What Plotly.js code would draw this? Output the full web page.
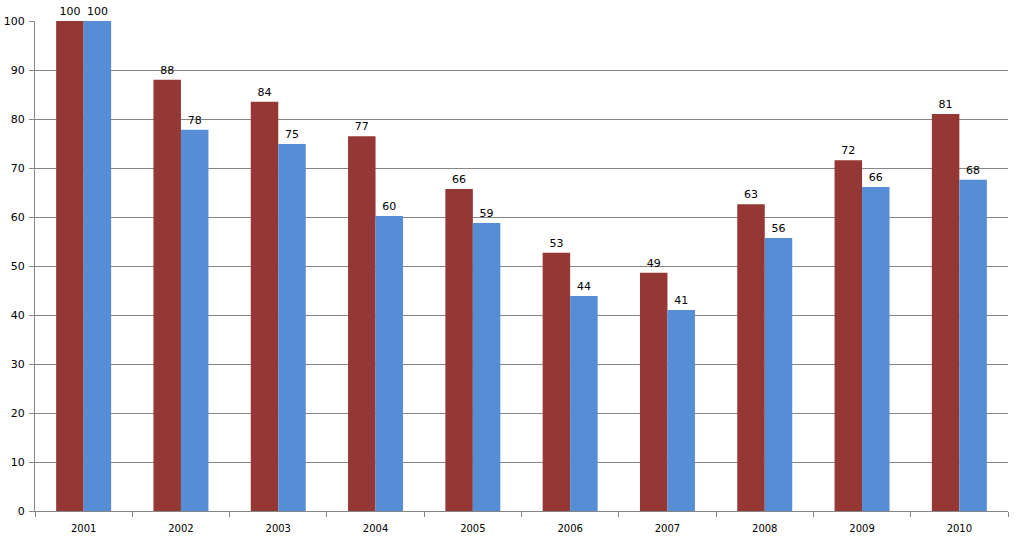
<!DOCTYPE html>
<html>
<head>
<meta charset="utf-8">
<script src="https://cdn.plot.ly/plotly-3.0.1.min.js"></script>
<style>html,body{margin:0;padding:0;background:#fff;}#chart{width:1022px;height:548px;}</style>
</head>
<body>
<div id="chart"></div>
<script>
var years = ['2001','2002','2003','2004','2005','2006','2007','2008','2009','2010'];
var seriesRed = [100, 88.0, 83.5, 76.5, 65.7, 52.7, 48.6, 62.6, 71.6, 81.0];
var seriesBlue = [100, 77.8, 74.9, 60.2, 58.8, 43.9, 41.0, 55.7, 66.1, 67.6];
var yTicks = [0,10,20,30,40,50,60,70,80,90,100];

var font = {family: 'DejaVu Sans, Verdana, sans-serif', size: 11, color: '#000'};
function trace(vals, color){
  return {
    type: 'bar', x: years, y: vals,
    marker: {color: color, line: {width: 0}},
    text: vals.map(function(v){return String(Math.round(v));}),
    textposition: 'outside', cliponaxis: false,
    textfont: font, hoverinfo: 'none'
  };
}
var data = [trace(seriesRed, '#953735'), trace(seriesBlue, '#558ED5')];
var layout = {
  width: 1022, height: 548,
  margin: {l: 35, r: 14, t: 21, b: 37},
  paper_bgcolor: '#fff', plot_bgcolor: '#fff',
  barmode: 'group', bargap: 0.435, bargroupgap: 0,
  showlegend: false,
  font: font,
  xaxis: {
    type: 'category', showgrid: false, showline: true, linecolor: '#868686', linewidth: 1,
    ticks: 'outside', tickson: 'boundaries', ticklen: 5, tickcolor: '#868686',
    ticklabelstandoff: 8,
    tickfont: {family: 'DejaVu Sans, Verdana, sans-serif', size: 10, color: '#000'}
  },
  yaxis: {
    range: [0, 100], tickvals: yTicks, showgrid: true, gridcolor: '#868686', gridwidth: 1,
    showline: true, linecolor: '#868686', linewidth: 1, zeroline: false,
    ticks: 'outside', ticklen: 5, tickcolor: '#868686', ticklabelstandoff: 2,
    tickfont: {family: 'DejaVu Sans, Verdana, sans-serif', size: 11, color: '#000'}
  }
};
Plotly.newPlot('chart', data, layout, {displayModeBar: false, staticPlot: true});
</script>
</body>
</html>
